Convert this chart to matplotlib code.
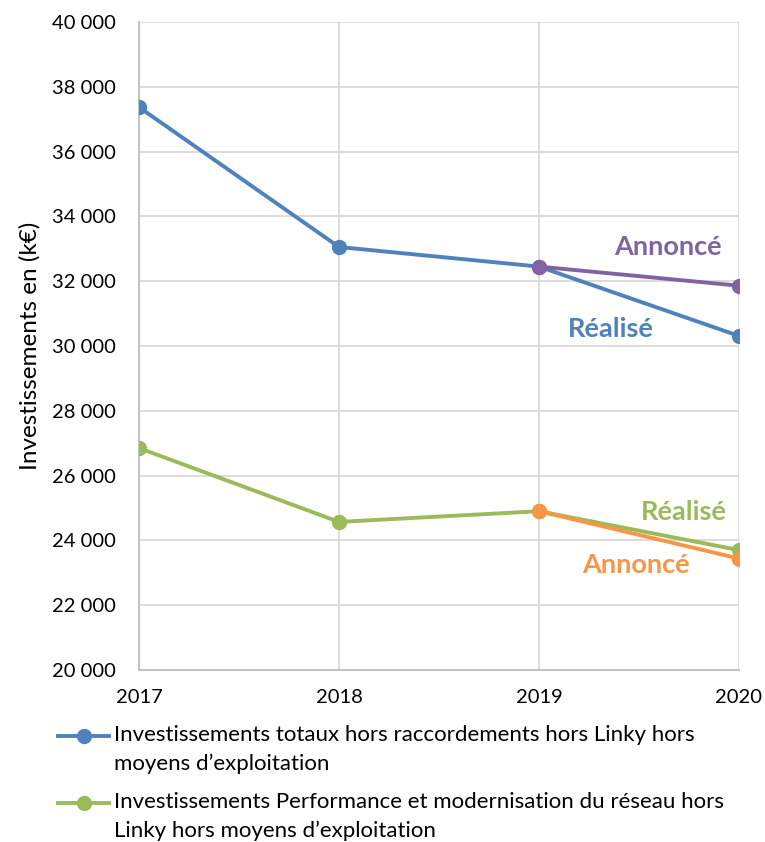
import matplotlib.pyplot as plt
import matplotlib.ticker as mticker
from matplotlib.legend_handler import HandlerLine2D

plt.rcParams['font.family'] = ['Lato', 'DejaVu Sans']

years = [2017, 2018, 2019, 2020]
total_realise = [37370, 33055, 32450, 30310]
perf_realise = [26850, 24570, 24900, 23700]
annee_annonce = [2019, 2020]
total_annonce = [32450, 31860]
perf_annonce = [24900, 23440]

blue = '#4f81bd'
green = '#9bbb59'
purple = '#8064a2'
orange = '#f79646'


# legend handle next to the first line of a two-line label, like Excel does
class FirstLineHandler(HandlerLine2D):
    def create_artists(self, legend, orig_handle, xdescent, ydescent, width, height, fontsize, trans):
        return super().create_artists(legend, orig_handle, xdescent, ydescent - 20.5,
                                      width, height, fontsize, trans)


fig = plt.figure(figsize=(7.65, 8.42), dpi=100)
ax = fig.add_axes([0.1817, 0.2043, 0.7843, 0.7696])

l1, = ax.plot(years, total_realise, color=blue, lw=2.8, marker='o', ms=10, zorder=3)
l2, = ax.plot(years, perf_realise, color=green, lw=2.8, marker='o', ms=10, zorder=3)
ax.plot(annee_annonce, total_annonce, color=purple, lw=2.8, marker='o', ms=10, zorder=4)
ax.plot(annee_annonce, perf_annonce, color=orange, lw=2.8, marker='o', ms=10, zorder=4)

ax.set_xlim(2017, 2020)
ax.set_ylim(20000, 40000)
ax.set_xticks(years)
ax.set_yticks(range(20000, 40001, 2000))
ax.yaxis.set_major_formatter(mticker.FuncFormatter(lambda v, p: f'{int(v):,}'.replace(',', ' ')))
ax.tick_params(length=0, labelsize=14.5)
ax.tick_params(axis='y', pad=17)
ax.tick_params(axis='x', pad=14)
ax.grid(color='#d9d9d9', lw=1.3)
ax.set_axisbelow(True)
for s in ['top', 'right']:
    ax.spines[s].set_visible(False)
for s in ['left', 'bottom']:
    ax.spines[s].set_color('#bfbfbf')
    ax.spines[s].set_linewidth(1.3)
ax.set_ylabel('Investissements en (k€)', fontsize=17.5, labelpad=8)

ax.text(2019.645, 33050, 'Annoncé', color=purple, fontsize=19.5, fontweight='bold', ha='center', va='center')
ax.text(2019.36, 30520, 'Réalisé', color=blue, fontsize=19.5, fontweight='bold', ha='center', va='center')
ax.text(2019.725, 24880, 'Réalisé', color=green, fontsize=19.5, fontweight='bold', ha='center', va='center')
ax.text(2019.485, 23240, 'Annoncé', color=orange, fontsize=19.5, fontweight='bold', ha='center', va='center')

leg = fig.legend([l1, l2],
                 ['Investissements totaux hors raccordements hors Linky hors\nmoyens d\u2019exploitation',
                  'Investissements Performance et modernisation du réseau hors\nLinky hors moyens d\u2019exploitation'],
                 loc='upper left', bbox_to_anchor=(58 / 765, 1 - 725 / 842), frameon=False, fontsize=16,
                 handlelength=2.3, handletextpad=0.2, labelspacing=0.8, borderpad=0, borderaxespad=0,
                 handler_map={l1: FirstLineHandler(), l2: FirstLineHandler()})
for t in leg.get_texts():
    t.set_linespacing(1.55)

fig.savefig('out.png', dpi=100)
